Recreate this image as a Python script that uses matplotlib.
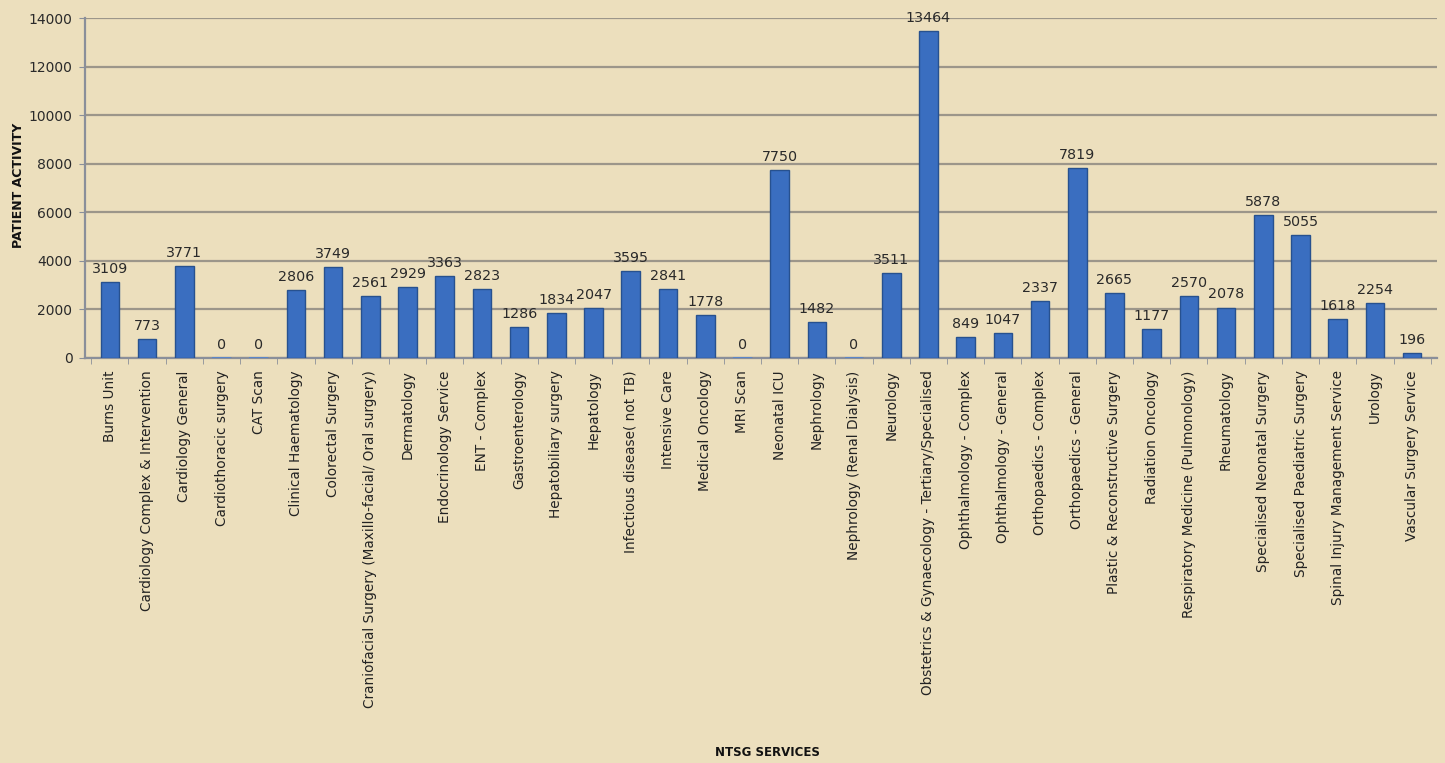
import numpy as np
import matplotlib.pyplot as plt

services = [
    "Burns Unit", "Cardiology Complex & Intervention", "Cardiology General",
    "Cardiothoracic surgery", "CAT Scan", "Clinical Haematology",
    "Colorectal Surgery", "Craniofacial Surgery (Maxillo-facial/ Oral surgery)",
    "Dermatology", "Endocrinology Service", "ENT - Complex", "Gastroenterology",
    "Hepatobiliary surgery", "Hepatology", "Infectious disease( not TB)",
    "Intensive Care", "Medical Oncology", "MRI Scan", "Neonatal ICU",
    "Nephrology", "Nephrology (Renal Dialysis)", "Neurology",
    "Obstetrics & Gynaecology - Tertiary/Specialised",
    "Ophthalmology - Complex", "Ophthalmology - General",
    "Orthopaedics - Complex", "Orthopaedics - General",
    "Plastic & Reconstructive Surgery", "Radiation Oncology",
    "Respiratory Medicine (Pulmonology)", "Rheumatology",
    "Specialised Neonatal Surgery", "Specialised Paediatric Surgery",
    "Spinal Injury Management Service", "Urology", "Vascular Surgery Service",
]
activity = [3109, 773, 3771, 0, 0, 2806, 3749, 2561, 2929, 3363, 2823, 1286,
            1834, 2047, 3595, 2841, 1778, 0, 7750, 1482, 0, 3511, 13464, 849,
            1047, 2337, 7819, 2665, 1177, 2570, 2078, 5878, 5055, 1618, 2254, 196]
yticks = [0, 2000, 4000, 6000, 8000, 10000, 12000, 14000]

plt.rcParams['font.family'] = ['DejaVu Sans']

bg = '#ecdfbd'
fig = plt.figure(figsize=(14.45, 7.63), dpi=100, facecolor=bg)
ax = fig.add_axes([0.0588, 0.5308, 0.9357, 0.4456])
ax.set_facecolor(bg)

x = np.arange(len(services))
ax.bar(x, activity, width=0.5, color='#3a6ec0', edgecolor='#27518f',
       linewidth=1.0, zorder=3)
# flat plates for the zero bars
zero = [i for i, v in enumerate(activity) if v == 0]
ax.bar(zero, [60] * len(zero), width=0.5, color='#5b86c8', zorder=3)

for i, v in enumerate(activity):
    ax.text(i, v + 250, str(v), ha='center', va='bottom', fontsize=10.3,
            color='#2a2a2a', zorder=4)

ax.set_xlim(-0.67, 35.67)
ax.set_ylim(0, 14000)
ax.set_yticks(yticks)
ax.set_yticklabels([str(t) for t in yticks], fontsize=10, color='#2a2a2a')
ax.grid(axis='y', color='#9c968a', linewidth=1.6, zorder=0)

ax.set_xticks(x)
ax.set_xticklabels(services, rotation=90, fontsize=9.8, color='#222222',
                   va='top')
ax.set_xticks(np.arange(len(services) + 1) - 0.5, minor=True)
ax.tick_params(axis='x', which='major', length=0, pad=9)
ax.tick_params(axis='x', which='minor', length=4, color='#8a8f9a')
ax.tick_params(axis='y', length=4, color='#8a8f9a', pad=5)

for s in ['top', 'right']:
    ax.spines[s].set_visible(False)
ax.spines['left'].set_color('#8a8f9a')
ax.spines['bottom'].set_color('#8a8f9a')
ax.spines['left'].set_linewidth(1.6)
ax.spines['bottom'].set_linewidth(1.6)

fig.text(0.0125, 0.757, 'PATIENT ACTIVITY', rotation=90, ha='center',
         va='center', fontsize=9, fontweight='bold', color='#111111')
fig.text(0.531, 0.014, 'NTSG SERVICES', ha='center', va='center',
         fontsize=8.5, fontweight='bold', color='#111111')

fig.savefig('out.png', dpi=100, facecolor=bg)
